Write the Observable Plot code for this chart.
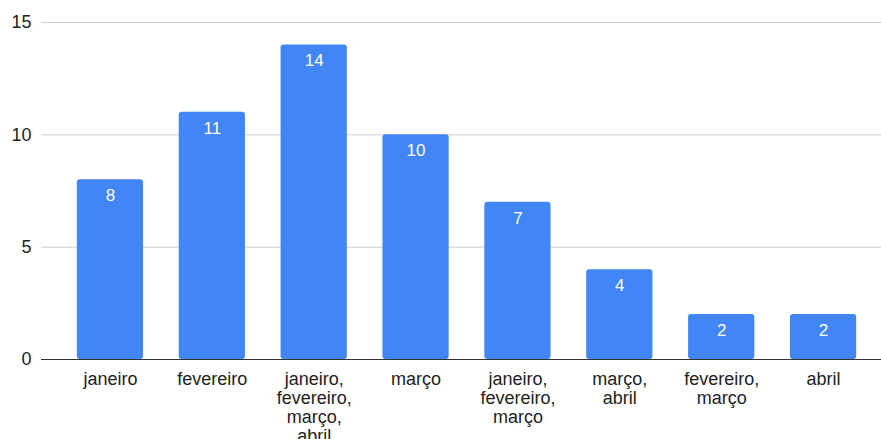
<!DOCTYPE html>
<html><head>
<meta charset="utf-8">
<script src="https://cdn.jsdelivr.net/npm/d3@7"></script>
<script src="https://cdn.jsdelivr.net/npm/@observablehq/plot@0.6"></script>
<style>body{margin:0;background:#fff;overflow:hidden}</style>
</head><body><div id="chart"></div>
<script>
const categories = ["janeiro", "fevereiro", "janeiro,\nfevereiro,\nmarço,\nabril", "março", "janeiro,\nfevereiro,\nmarço", "março,\nabril", "fevereiro,\nmarço", "abril"];
const values = [8, 11, 14, 10, 7, 4, 2, 2];
const yTicks = [0, 5, 10, 15];
const data = categories.map((c, i) => ({category: c, value: values[i]}));
const chart = Plot.plot({
  width: 881, height: 439,
  marginTop: 22, marginBottom: 80, marginLeft: 41, marginRight: 0,
  style: {fontFamily: "'Liberation Sans', Arial, sans-serif", fontSize: "18px", color: "#222", background: "#fff"},
  x: {domain: categories, paddingInner: 0.35, paddingOuter: 0.175, insetLeft: 18, insetRight: 7, round: false, label: null},
  y: {domain: [0, 15], label: null},
  marks: [
    Plot.ruleY(yTicks, {stroke: "#ccc", strokeWidth: 1}),
    Plot.barY(data, {x: "category", y: "value", fill: "#4285F4", rx: 3}),
    Plot.ruleY([0], {stroke: "#333", strokeWidth: 1.2}),
    Plot.text(data, {x: "category", y: "value", text: d => String(d.value), dy: 16, fill: "white", fontSize: 17}),
    Plot.axisY({ticks: yTicks, tickSize: 0, tickPadding: 10, fontSize: 18, label: null, fill: "#222"}),
    Plot.axisX({tickSize: 0, tickPadding: 12, fontSize: 18, lineHeight: 1.06, label: null, fill: "#222"})
  ]
});
document.getElementById("chart").appendChild(chart);
</script>
</body></html>
